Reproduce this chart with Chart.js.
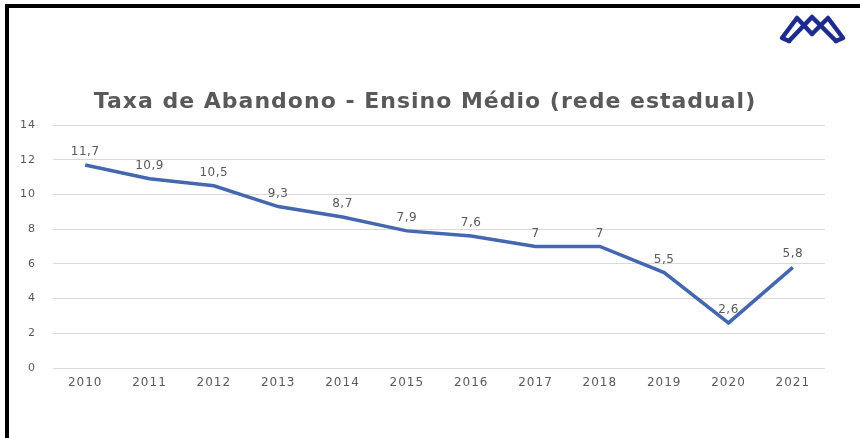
<!DOCTYPE html>
<html>
<head>
<meta charset="utf-8">
<script src="https://cdn.jsdelivr.net/npm/chart.js@4.4.1/dist/chart.umd.min.js"></script>
<style>
  html, body { margin: 0; padding: 0; background: #fff; }
  #wrap { position: relative; width: 860px; height: 438px; overflow: hidden; }
  #frame { position: absolute; left: 5px; top: 4px; width: 900px; height: 500px;
           border-top: 4px solid #000; border-left: 4px solid #000; }
  #logo { position: absolute; left: 0; top: 0; }
  canvas { position: absolute; left: 0; top: 0; }
</style>
</head>
<body>
<div id="wrap">
  <div id="frame"></div>
  <canvas id="chart" width="860" height="438"></canvas>
  <svg id="logo" width="860" height="60">
    <g fill="none" stroke="#1c2c8e" stroke-width="4.5" stroke-linejoin="round" stroke-linecap="round">
      <path d="M789 41 L782 38 L797 18 L812 34 L828 18 L843 38 L836 41"/>
      <path d="M789 41 L812 17 L836 41"/>
    </g>
  </svg>
</div>
<script>
const years = ['2010', '2011', '2012', '2013', '2014', '2015', '2016', '2017', '2018', '2019', '2020', '2021'];
const dropoutRate = [11.7, 10.9, 10.5, 9.3, 8.7, 7.9, 7.6, 7, 7, 5.5, 2.6, 5.8];
const yTicks = [0, 2, 4, 6, 8, 10, 12, 14];
const chartTitle = 'Taxa de Abandono - Ensino Médio (rede estadual)';

const grey = '#595959';

// the source renders its text a little spread out, so widen letters a bit
const spacing = {
    id: 'spacing',
    beforeDraw(chart) { chart.ctx.letterSpacing = '1px'; },
    afterDraw(chart) { chart.ctx.letterSpacing = '0px'; }
};

// title drawn by hand so it can get its own letter spacing
const titleText = {
    id: 'titleText',
    afterDraw(chart) {
        const ctx = chart.ctx;
        ctx.save();
        ctx.letterSpacing = '1px';
        ctx.font = 'bold 22px "DejaVu Sans"';
        ctx.fillStyle = grey;
        ctx.textAlign = 'center';
        ctx.textBaseline = 'middle';
        ctx.fillText(chartTitle, 425, 102);
        ctx.restore();
    }
};

// value above each point, comma as decimal mark
const valueLabels = {
    id: 'valueLabels',
    afterDatasetsDraw(chart) {
        const ctx = chart.ctx;
        const meta = chart.getDatasetMeta(0);
        ctx.save();
        ctx.letterSpacing = '0.5px';
        ctx.font = '12px "DejaVu Sans"';
        ctx.fillStyle = grey;
        ctx.textAlign = 'center';
        ctx.textBaseline = 'middle';
        meta.data.forEach((pt, i) => {
            const txt = String(dropoutRate[i]).replace('.', ',');
            ctx.fillText(txt, pt.x, pt.y - 13);
        });
        ctx.restore();
    }
};

new Chart(document.getElementById('chart'), {
    type: 'line',
    data: {
        labels: years,
        datasets: [{
            data: dropoutRate,
            borderColor: '#4467b0',
            borderWidth: 3.5,
            pointRadius: 0,
            tension: 0
        }]
    },
    options: {
        responsive: false,
        animation: false,
        layout: { padding: { left: 8, right: 35, top: 125, bottom: 40 } },
        plugins: {
            legend: { display: false },
            tooltip: { enabled: false },
            title: { display: false }
        },
        scales: {
            x: {
                offset: true,
                grid: { display: false, drawTicks: false },
                border: { display: false },
                ticks: { color: grey, font: { family: 'DejaVu Sans', size: 12 }, padding: 8 },
                afterFit: (s) => { s.height = 30; }
            },
            y: {
                min: 0,
                max: 14,
                afterBuildTicks: (s) => { s.ticks = yTicks.map(v => ({ value: v })); },
                grid: { color: '#d9d9d9', drawTicks: false },
                border: { display: false },
                ticks: { color: grey, font: { family: 'DejaVu Sans', size: 11 }, padding: 17 },
                afterFit: (s) => { s.width = 45; }
            }
        }
    },
    plugins: [spacing, valueLabels, titleText]
});
</script>
</body>
</html>
